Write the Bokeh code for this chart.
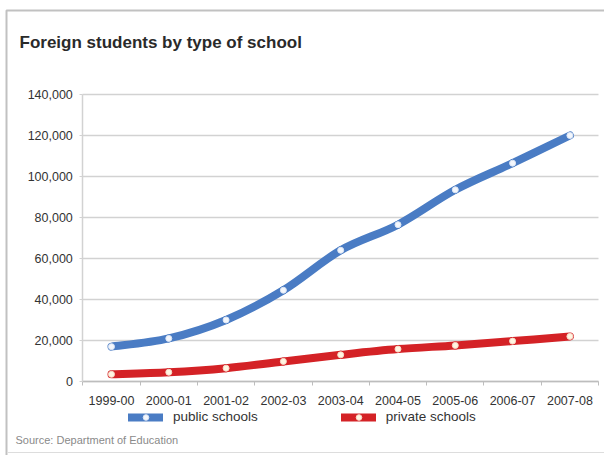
import numpy as np
from bokeh.plotting import figure
from bokeh.models import (FixedTicker, NumeralTickFormatter, Legend, LegendItem,
                          Range1d, ColumnDataSource, Label, BoxAnnotation, Grid)
from bokeh.embed import file_html
from bokeh.resources import INLINE

# Foreign students enrolled, by school year
years = ["1999-00", "2000-01", "2001-02", "2002-03", "2003-04",
         "2004-05", "2005-06", "2006-07", "2007-08"]
public_schools = [17000, 21000, 30000, 44500, 64000, 76500, 93500, 106500, 120000]
private_schools = [3500, 4500, 6500, 9800, 13000, 15800, 17600, 19700, 22000]
y_ticks = [0, 20000, 40000, 60000, 80000, 100000, 120000, 140000]

FONT = "Liberation Sans"
BLUE = "#4a7cc4"
RED = "#d42226"
TEXT = "#333333"
W, H = 604, 455


def smooth_segments(values):
    """Catmull-Rom style cubic Bezier segments through the points."""
    y = np.asarray(values, dtype=float)
    x = np.arange(len(y), dtype=float)
    n = len(y)
    xp = np.concatenate([[x[0]], x, [x[-1]]])
    yp = np.concatenate([[y[0]], y, [y[-1]]])
    return ColumnDataSource(dict(
        x0=x[:-1], y0=y[:-1], x1=x[1:], y1=y[1:],
        cx0=xp[1:n] + (xp[2:n + 1] - xp[0:n - 1]) / 6,
        cy0=yp[1:n] + (yp[2:n + 1] - yp[0:n - 1]) / 6,
        cx1=xp[2:n + 1] - (xp[3:n + 2] - xp[1:n]) / 6,
        cy1=yp[2:n + 1] - (yp[3:n + 2] - yp[1:n]) / 6,
    ))


# the plot frame fills the whole page; axes sit inside it at fixed positions
p = figure(width=W, height=H, output_backend="svg", toolbar_location=None,
           x_range=Range1d(-1.937, 8.604), y_range=Range1d(-36100, 185850),
           min_border=0, title=None)
p.outline_line_color = None
p.background_fill_color = "white"
p.border_fill_color = "white"

# horizontal grid limited to the chart area
p.xgrid.visible = False
p.ygrid.ticker = FixedTicker(ticks=y_ticks)
if "cross_bounds" in Grid.properties():
    p.ygrid.grid_line_color = "#d2d2d2"
    p.ygrid.grid_line_width = 1.5
    p.ygrid.bounds = (0, 140000)
    p.ygrid.cross_bounds = (-0.5, 8.5)
else:
    p.ygrid.visible = False
    p.segment(x0=-0.5, x1=8.5, y0=y_ticks, y1=y_ticks,
              line_color="#d2d2d2", line_width=1.5)

xa = p.xaxis[0]
xa.fixed_location = 0
xa.bounds = (-0.5, 8.5)
xa.ticker = FixedTicker(ticks=list(range(len(years))),
                        minor_ticks=[i - 0.5 for i in range(len(years) + 1)])
xa.major_label_overrides = {i: s for i, s in enumerate(years)}
xa.axis_line_color = "#bdbdbd"
xa.axis_line_width = 1.5
xa.major_tick_line_color = None
xa.minor_tick_line_color = "#bdbdbd"
xa.minor_tick_out = 4
xa.minor_tick_in = 0
xa.major_label_standoff = 9
xa.major_label_text_font = FONT
xa.major_label_text_font_size = "12.5px"
xa.major_label_text_color = TEXT

ya = p.yaxis[0]
ya.fixed_location = -0.5
ya.bounds = (0, 140000)
ya.ticker = FixedTicker(ticks=y_ticks)
ya.formatter = NumeralTickFormatter(format="0,0")
ya.axis_line_color = "#d2d2d2"
ya.axis_line_width = 1.5
ya.major_tick_line_color = "#d2d2d2"
ya.major_tick_out = 3
ya.major_tick_in = 0
ya.minor_tick_line_color = None
ya.major_label_standoff = 7
ya.major_label_text_font = FONT
ya.major_label_text_font_size = "12.5px"
ya.major_label_text_color = TEXT

# series
idx = list(range(len(years)))
pub_line = p.bezier(x0="x0", y0="y0", x1="x1", y1="y1", cx0="cx0", cy0="cy0",
                    cx1="cx1", cy1="cy1", source=smooth_segments(public_schools),
                    line_color=BLUE, line_width=8, line_cap="round")
pub_dots = p.scatter(idx, public_schools, size=6, fill_color="#f4f7fc",
                     line_color="#dbe5f5", line_width=1)
prv_line = p.bezier(x0="x0", y0="y0", x1="x1", y1="y1", cx0="cx0", cy0="cy0",
                    cx1="cx1", cy1="cy1", source=smooth_segments(private_schools),
                    line_color=RED, line_width=8, line_cap="round")
prv_dots = p.scatter(idx, private_schools, size=6, fill_color="#fff6e2",
                     line_color="#f7d9c8", line_width=1)

# legend under the axis (screen offsets from the bottom-left corner)
legend = Legend(items=[LegendItem(label="public schools", renderers=[pub_line, pub_dots]),
                       LegendItem(label="private schools", renderers=[prv_line, prv_dots])],
                location=(128, H - 424), orientation="horizontal",
                glyph_width=35, glyph_height=14, label_height=14,
                label_standoff=10, padding=0, margin=0, spacing=83,
                border_line_color=None, background_fill_alpha=0,
                label_text_font=FONT, label_text_font_size="13.5px",
                label_text_color=TEXT)
p.add_layout(legend)

# title and source note
p.add_layout(Label(x=19, y=H - 42, x_units="screen", y_units="screen",
                   text="Foreign students by type of school",
                   text_font=FONT, text_font_size="17px", text_font_style="bold",
                   text_color="#2a2a2a", text_baseline="middle"))
p.add_layout(Label(x=15, y=H - 439, x_units="screen", y_units="screen",
                   text="Source: Department of Education",
                   text_font=FONT, text_font_size="11px",
                   text_color="#8a8a8a", text_baseline="middle"))

# page frame: dark rule at top and left, faint rule at the bottom
p.add_layout(BoxAnnotation(left=6, right=W + 20, top=H - 10, bottom=-20,
                           left_units="screen", right_units="screen",
                           top_units="screen", bottom_units="screen",
                           fill_alpha=0, line_color="#333333", line_width=2))
p.add_layout(BoxAnnotation(left=7, right=W + 20, top=H - 451.5, bottom=H - 452.5,
                           left_units="screen", right_units="screen",
                           top_units="screen", bottom_units="screen",
                           fill_color="#dddddd", fill_alpha=1, line_color=None))

open("out.html", "w").write(file_html(p, INLINE))
